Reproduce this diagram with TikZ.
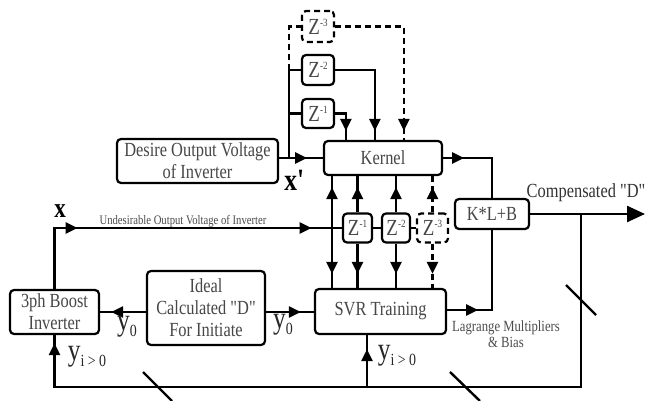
\documentclass[tikz,border=0pt]{standalone}
\usepackage{fontspec}
\setmainfont{Liberation Serif}
\newfontfamily\cond[FakeStretch=0.82]{Liberation Serif}
\usetikzlibrary{arrows.meta,decorations.markings,calc}

% delay block label Z^{-n}
\newcommand\zinv[1]{{\fontsize{23}{23}\selectfont Z}\raisebox{8pt}{\fontsize{11}{11}\selectfont -#1}}
% output label y with a subscript
\newcommand\ylab[1]{y\raisebox{-6pt}{\fontsize{17}{17}\selectfont #1}}

\tikzset{
  blk/.style={draw, line width=2.2pt, rounded corners=4pt, inner sep=0pt,
    align=center, font=\cond\fontsize{20}{22}\selectfont, text=black!72},
  zb/.style={blk, minimum height=29pt},
  conn/.style={line width=2.4pt},
  dsh/.style={dash pattern=on 6pt off 4pt},
  arrowpos/.style={postaction={decorate,decoration={markings,
    mark=at position #1 with {\arrow{Triangle[length=12pt,width=11pt]}}}}},
  lab/.style={inner sep=0pt, font=\cond\bfseries\fontsize{28}{28}\selectfont},
  ylabel/.style={inner sep=0pt, font=\cond\fontsize{31}{31}\selectfont, text=black!85},
  note/.style={inner sep=0pt, align=center, text=black!70}
}

\begin{document}
\begin{tikzpicture}[x=1pt,y=-1pt]
\fill[white] (0,0) rectangle (646,401);
\useasboundingbox (0,0) rectangle (646,401);

% blocks
\node[blk, minimum width=161pt, minimum height=44pt] (desire) at (197.5,161)
  {Desire Output Voltage\\of Inverter};
\node[blk, minimum width=118pt, minimum height=34pt] (kernel) at (383,158) {Kernel};
\node[zb, dsh, minimum width=32pt, minimum height=31pt] (z3t) at (318,26.5) {\zinv{3}};
\node[zb, minimum width=32pt, minimum height=30pt] (z2t) at (318,70) {\zinv{2}};
\node[zb, minimum width=32pt] (z1t) at (318,113.5) {\zinv{1}};
\node[zb, minimum width=29pt] (z1b) at (357.5,228) {\zinv{1}};
\node[zb, minimum width=28pt] (z2b) at (396,228) {\zinv{2}};
\node[zb, dsh, minimum width=31pt] (z3b) at (432.5,228) {\zinv{3}};
\node[blk, minimum width=74pt, minimum height=30pt] (klb) at (492,214) {K*L+B};
\node[blk, minimum width=131pt, minimum height=45pt] (svr) at (380.5,311.5) {SVR Training};
\node[blk, minimum width=118pt, minimum height=74pt] (ideal) at (206,308)
  {Ideal\\Calculated "D"\\For Initiate};
\node[blk, minimum width=89pt, minimum height=44pt] (threeph) at (54.5,312)
  {3ph Boost\\Inverter};

% desired voltage into the kernel and the upper delay line
\coordinate (tr) at (289,158);
\draw[conn, arrowpos=28pt] (desire.east |- kernel.west) -- (kernel.west);
\draw[conn] (tr) -- (tr |- z2t.west) -- (z2t.west);
\draw[conn] (tr |- z1t.west) -- (z1t.west);
\draw[conn, dsh] (tr |- z2t.west) -- (tr |- z3t.west) -- (z3t.west);
\draw[conn, arrowpos=-9pt] (z1t.east) -| ($(kernel.north west)+(23,0)$);
\draw[conn, arrowpos=-9pt] (z2t.east) -| ($(kernel.north west)+(52,0)$);
\draw[conn, dsh, arrowpos=-9pt] (z3t.east) -| ($(kernel.north west)+(81,0)$);

% measured output voltage and the lower delay line
\draw[conn, arrowpos=84pt, arrowpos=318pt]
  (threeph.north) -- (threeph.north |- z1b.west) -- (z1b.west);
\coordinate (j) at (332,228);
\draw[conn, arrowpos=-11pt] (j) -- (j |- kernel.south);
\draw[conn, arrowpos=-14pt] (j) -- (j |- svr.north);
\draw[conn] (z1b.east) -- (z2b.west);
\draw[conn] (z2b.east) -- (z3b.west);
\draw[conn, arrowpos=-11pt] (z1b.north) -- (z1b.north |- kernel.south);
\draw[conn, arrowpos=-14pt] (z1b.south) -- (z1b.south |- svr.north);
\draw[conn, arrowpos=-11pt] (z2b.north) -- (z2b.north |- kernel.south);
\draw[conn, arrowpos=-14pt] (z2b.south) -- (z2b.south |- svr.north);
\draw[conn, dsh, arrowpos=-11pt] (z3b.north) -- (z3b.north |- kernel.south);
\draw[conn, dsh, arrowpos=-14pt] (z3b.south) -- (z3b.south |- svr.north);

% kernel and training outputs into K*L+B
\draw[conn, arrowpos=21pt] (kernel.east) -| (klb.north);
\draw[conn, arrowpos=31pt] (svr.east |- 0,310) -| (klb.south);

% compensated duty output and feedback
\coordinate (out) at (645,214);
\draw[conn, -{Triangle[length=18pt,width=16pt]}] (klb.east) -- (out);
\coordinate (fb) at (581,214);
\coordinate (bot) at (581,387);
\draw[conn, arrowpos=-8pt] (fb) -- (bot) -| (threeph.south);
\coordinate (br) at (367,387);
\draw[conn, arrowpos=-14pt] (br) -- (br |- svr.south);

% initial duty
\draw[conn, arrowpos=-11pt] (ideal.west |- threeph.east) -- (threeph.east);
\draw[conn, arrowpos=-13pt] (ideal.east |- threeph.east) -- (svr.west |- threeph.east);

% bus markers
\draw[conn] (143,372) -- (172,401);
\draw[conn] (450,372) -- (480,401);
\draw[conn] (566,285) -- (596,315);

% labels
\node[lab, font=\cond\bfseries\fontsize{31}{31}\selectfont] (lxp) at (295,180) {x\textquotesingle};
\node[lab] (lx) at (60,211) {x};
\node[note, font=\cond\fontsize{13}{13}\selectfont] (lund) at (183,221)
  {Undesirable Output Voltage of Inverter};
\node[ylabel] (ly0a) at (127,327) {\ylab{0}};
\node[ylabel] (ly0b) at (283,325) {\ylab{0}};
\node[ylabel] (lyia) at (87,357) {\ylab{i > 0}};
\node[ylabel] (lyib) at (397,356) {\ylab{i > 0}};
\node[note, font=\cond\fontsize{15.5}{16}\selectfont] (llag) at (506,334)
  {Lagrange Multipliers\\\& Bias};
\node[note, text=black!80, font=\cond\fontsize{20}{20}\selectfont] (lcomp) at (586,193)
  {Compensated "D"};
\end{tikzpicture}
\end{document}
